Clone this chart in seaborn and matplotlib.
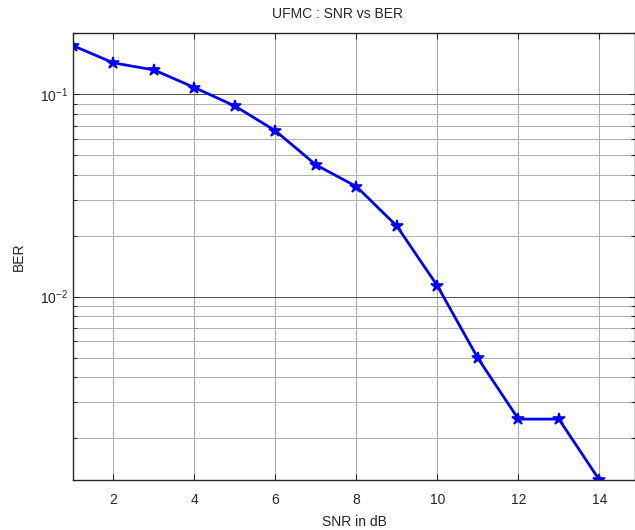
import numpy as np
import seaborn as sns
import matplotlib.pyplot as plt
from matplotlib.ticker import LogLocator, NullFormatter

snr = [1, 2, 3, 4, 5, 6, 7, 8, 9, 10, 11, 12, 13, 14]
ber = [0.174, 0.143, 0.132, 0.108, 0.0875, 0.066, 0.0448, 0.035,
       0.0223, 0.0113, 0.00496, 0.00248, 0.00248, 0.00124]

sns.set_style("ticks")
plt.rcParams['font.family'] = ['Liberation Sans', 'DejaVu Sans']
plt.rcParams['mathtext.default'] = 'regular'
plt.rcParams['xtick.direction'] = 'in'
plt.rcParams['ytick.direction'] = 'in'

fig = plt.figure(figsize=(6.35, 5.3), dpi=100)
ax = fig.add_axes([73 / 635, 50 / 530, 1 - 73 / 635, 447 / 530])

sns.lineplot(x=snr, y=ber, ax=ax, color=(0, 0, 1), linewidth=2,
             marker='*', markersize=9, markeredgewidth=1.2,
             markeredgecolor=(0, 0, 1))

ax.set_yscale('log')
ax.set_xlim(1, 14.88)
ax.set_ylim(0.00124, 0.201)
ax.set_xticks([2, 4, 6, 8, 10, 12, 14])
ax.yaxis.set_major_locator(LogLocator(base=10))
ax.yaxis.set_minor_locator(LogLocator(base=10, subs=np.arange(2, 10)))
ax.yaxis.set_minor_formatter(NullFormatter())

ax.grid(True, which='major', axis='x', color='#a8a8a8', linewidth=0.7)
ax.grid(True, which='major', axis='y', color='#505050', linewidth=0.7)
ax.grid(True, which='minor', axis='y', color='#b0b0b0', linewidth=0.7)
ax.set_axisbelow(True)

ax.tick_params(which='both', top=True, right=True, labelsize=10, length=4, width=0.8)
ax.tick_params(axis='x', pad=9)
ax.tick_params(which='minor', length=3)
for s in ax.spines.values():
    s.set_linewidth(1.0)

ax.set_title('UFMC : SNR vs BER', fontsize=10, x=0.47, pad=11)
ax.set_xlabel('SNR in dB', fontsize=10, labelpad=6)
ax.set_ylabel('BER', fontsize=10, labelpad=10)

fig.savefig('out.png', dpi=100)
